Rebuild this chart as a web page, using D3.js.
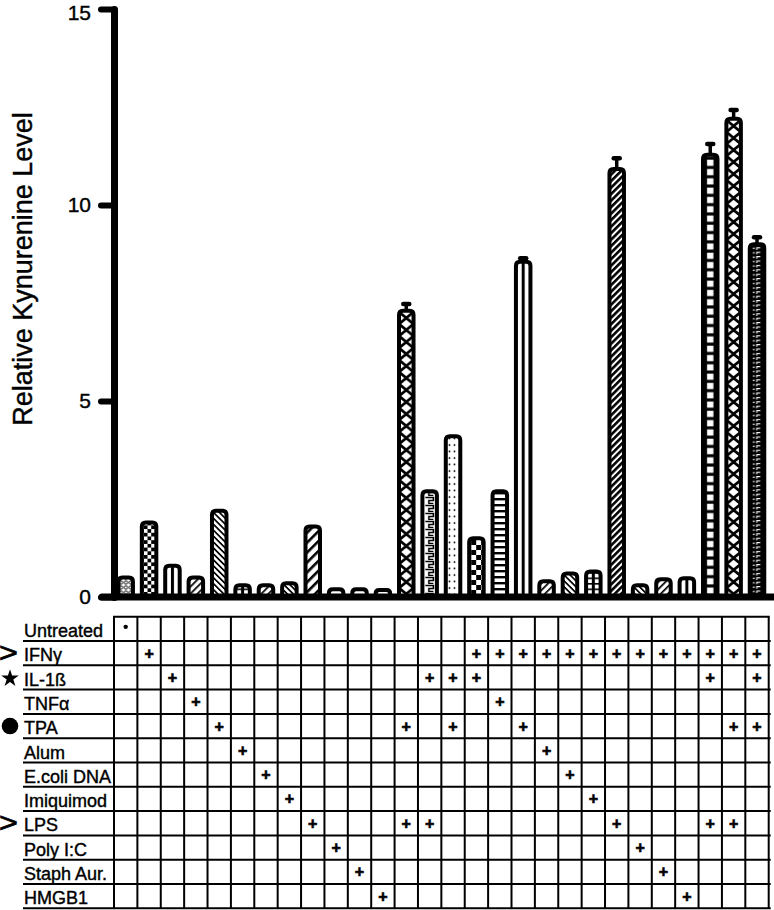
<!DOCTYPE html>
<html>
<head>
<meta charset="utf-8">
<title>Relative Kynurenine Level</title>
<script src="https://cdnjs.cloudflare.com/ajax/libs/d3/7.8.5/d3.min.js"></script>
<style>
body { margin: 0; background: #fff; }
svg { display: block; font-family: "Liberation Sans", Arial, Helvetica, sans-serif; }
.heavy { stroke: #000; stroke-width: 0.4; }
</style>
</head>
<body>
<svg width="774" height="910"></svg>
<script>

// treatments, one table row each
var treatments = ["Untreated", "IFNγ", "IL-1ß", "TNFα", "TPA", "Alum", "E.coli DNA",
                  "Imiquimod", "LPS", "Poly I:C", "Staph Aur.", "HMGB1"];
var rowMarks = ["", ">", "★", "", "●", "", "", "", ">", "", "", ""];

// which columns (1-based) got each treatment
var applied = [
  [1],
  [2, 16, 17, 18, 19, 20, 21, 22, 23, 24, 25, 26, 27, 28],
  [3, 14, 15, 16, 26, 28],
  [4, 17],
  [5, 13, 15, 18, 27, 28],
  [6, 19],
  [7, 20],
  [8, 21],
  [9, 13, 14, 22, 26, 27],
  [10, 23],
  [11, 24],
  [12, 25]
];

// bar heights and error
var kynurenine = [0.5, 1.9, 0.8, 0.5, 2.2, 0.3, 0.3, 0.35, 1.8, 0.2, 0.2, 0.18,
                  7.3, 2.7, 4.1, 1.5, 2.7, 8.55, 0.4, 0.6, 0.65, 10.92, 0.3, 0.45,
                  0.48, 11.28, 12.2, 9.0];
var sem = [0, 0, 0, 0, 0, 0, 0, 0, 0, 0, 0, 0,
           0.2, 0, 0, 0, 0, 0.12, 0, 0, 0, 0.3, 0, 0,
           0, 0.3, 0.25, 0.2];
var yTicks = [0, 5, 10, 15];

var svg = d3.select("svg");

var x = d3.scaleBand().domain(d3.range(kynurenine.length)).range([114, 768.7]);
var y = d3.scaleLinear().domain([0, 15]).range([597, 9]);
var rows = d3.scaleBand().domain(d3.range(treatments.length)).range([616.7, 908.3]);

var barW = 14.5;

// fill patterns, one per bar
var fills = ["circles", "checker", "vcenter", "fdiag", "bdiag", "grid", "fdiag", "bdiag",
             "bigdiag", "hstripe", "hstripe", "hstripe", "diamond", "meander", "dots",
             "bigchecker", "hstripe", "vcenter", "fdiag", "bdiag", "grid", "slash",
             "bdiag", "fdiag", "vcenter", "ladder", "diamond", "dense"];

var defs = svg.append("defs");

function stripes(p, period, w, angle, bg, fg) {
  p.attr("width", period).attr("height", period)
   .attr("patternTransform", "rotate(" + angle + ")");
  p.append("rect").attr("width", period).attr("height", period).attr("fill", bg);
  p.append("rect").attr("width", w).attr("height", period).attr("fill", fg);
}

function makePattern(i, type, x0) {
  var W = barW;
  var p = defs.append("pattern").attr("id", "p" + i)
      .attr("patternUnits", "userSpaceOnUse").attr("x", x0).attr("y", 0);
  if (type == "circles") {
    p.attr("width", 5).attr("height", 5);
    p.append("rect").attr("width", 5).attr("height", 5).attr("fill", "#fff");
    p.append("circle").attr("cx", 2.5).attr("cy", 2.5).attr("r", 1.7)
      .attr("fill", "none").attr("stroke", "#000").attr("stroke-width", 1);
  } else if (type == "checker" || type == "bigchecker") {
    var s = type == "checker" ? 3.7 : 5;
    p.attr("width", 2 * s).attr("height", 2 * s).attr("x", x0 + 2);
    p.append("rect").attr("width", 2 * s).attr("height", 2 * s).attr("fill", "#fff");
    p.append("rect").attr("width", s).attr("height", s).attr("fill", "#000");
    p.append("rect").attr("x", s).attr("y", s).attr("width", s).attr("height", s).attr("fill", "#000");
  } else if (type == "vcenter" || type == "grid") {
    p.attr("width", W).attr("height", 5.5);
    p.append("rect").attr("width", W).attr("height", 5.5).attr("fill", "#fff");
    p.append("rect").attr("x", W / 2 - 1.5).attr("width", 3).attr("height", 5.5).attr("fill", "#000");
    if (type == "grid")
      p.append("rect").attr("width", W).attr("height", 1.6).attr("fill", "#000");
  } else if (type == "fdiag") {
    stripes(p, 5, 1.7, 45, "#fff", "#000");
  } else if (type == "bdiag") {
    stripes(p, 4.2, 1.7, -45, "#fff", "#000");
  } else if (type == "bigdiag") {
    stripes(p, 7, 2.6, 45, "#fff", "#000");
  } else if (type == "slash") {
    stripes(p, 4.6, 2.6, 45, "#fff", "#000");
  } else if (type == "hstripe") {
    p.attr("width", 10).attr("height", 6);
    p.append("rect").attr("width", 10).attr("height", 6).attr("fill", "#fff");
    p.append("rect").attr("width", 10).attr("height", 2.4).attr("fill", "#000");
  } else if (type == "diamond") {
    p.attr("width", W).attr("height", 12);
    p.append("rect").attr("width", W).attr("height", 12).attr("fill", "#fff");
    p.append("path").attr("d", "M0,0L" + W + ",12M" + W + ",0L0,12")
      .attr("stroke", "#000").attr("stroke-width", 2.8);
  } else if (type == "meander") {
    p.attr("width", W).attr("height", 8);
    p.append("rect").attr("width", W).attr("height", 8).attr("fill", "#fff");
    p.append("path").attr("d", "M3,1.5H11V4.5H6.5V7.5H11")
      .attr("fill", "none").attr("stroke", "#000").attr("stroke-width", 1.6);
  } else if (type == "dots") {
    p.attr("width", 5).attr("height", 6.5).attr("x", x0 + 1.2);
    p.append("rect").attr("width", 5).attr("height", 6.5).attr("fill", "#fff");
    p.append("circle").attr("cx", 2.5).attr("cy", 3).attr("r", 0.95).attr("fill", "#000");
  } else if (type == "ladder") {
    p.attr("width", W).attr("height", 9.3);
    p.append("rect").attr("width", W).attr("height", 9.3).attr("fill", "#000");
    p.append("rect").attr("x", W / 2 - 3.2).attr("y", 1.6).attr("width", 6.4).attr("height", 6.2).attr("fill", "#fff");
  } else if (type == "dense") {
    p.attr("width", W).attr("height", 4.4);
    p.append("rect").attr("width", W).attr("height", 4.4).attr("fill", "#000");
    p.append("rect").attr("x", 3.2).attr("y", 1.4).attr("width", 1.6).attr("height", 1.3).attr("fill", "#fff");
    p.append("path").attr("d", "M7,3.6V1.4H10.5").attr("fill", "none")
      .attr("stroke", "#fff").attr("stroke-width", 1.1);
  }
}

function barPath(cx, top, base) {
  var x0 = cx - barW / 2, x1 = cx + barW / 2;
  var r = Math.min(4, (base - top) / 2);
  return "M" + x0 + "," + base + "V" + (top + r) +
         "Q" + x0 + "," + top + " " + (x0 + r) + "," + top +
         "H" + (x1 - r) + "Q" + x1 + "," + top + " " + x1 + "," + (top + r) +
         "V" + base + "Z";
}

kynurenine.forEach(function(d, i) {
  makePattern(i, fills[i], x(i) + x.bandwidth() / 2 - barW / 2);
});

// bars
svg.append("g").selectAll("path")
  .data(kynurenine)
  .join("path")
    .attr("d", function(d, i) { return barPath(x(i) + x.bandwidth() / 2, y(d), y(0)); })
    .attr("fill", function(d, i) { return "url(#p" + i + ")"; })
    .attr("stroke", "#000")
    .attr("stroke-width", 4);

// error bars
var errs = svg.append("g").selectAll("g")
  .data(kynurenine.map(function(d, i) { return {i: i, v: d, e: sem[i]}; })
    .filter(function(d) { return d.e > 0; }))
  .join("g")
    .attr("transform", function(d) { return "translate(" + (x(d.i) + x.bandwidth() / 2) + ",0)"; });
errs.append("line")
  .attr("y1", function(d) { return y(d.v); })
  .attr("y2", function(d) { return y(d.v + d.e); })
  .attr("stroke", "#000").attr("stroke-width", 3.5);
errs.append("line")
  .attr("x1", -3).attr("x2", 3)
  .attr("y1", function(d) { return y(d.v + d.e) + 1; })
  .attr("y2", function(d) { return y(d.v + d.e) + 1; })
  .attr("stroke", "#000").attr("stroke-width", 4.5).attr("stroke-linecap", "round");

// axes
var yAxis = svg.append("g")
    .attr("transform", "translate(114,0)")
    .call(d3.axisLeft(y).tickValues(yTicks).tickSize(13).tickSizeOuter(0).tickPadding(10));
yAxis.select(".domain").attr("stroke-width", 7).attr("stroke-linecap", "round");
yAxis.selectAll(".tick line").attr("stroke-width", 6).attr("stroke-linecap", "round");
yAxis.selectAll(".tick text")
  .attr("class", "heavy")
  .attr("font-size", 21)
  .attr("font-family", "Liberation Sans, Arial, sans-serif")
  .attr("fill", "#000")
  .attr("dy", function(d) { return d == 15 ? "0.48em" : "0.32em"; });

svg.append("line")
  .attr("x1", 102).attr("x2", 774)
  .attr("y1", y(0)).attr("y2", y(0))
  .attr("stroke", "#000").attr("stroke-width", 7).attr("stroke-linecap", "round");

svg.append("text")
  .attr("class", "heavy")
  .attr("transform", "translate(31.5,269) rotate(-90)")
  .attr("text-anchor", "middle")
  .attr("font-size", 27)
  .text("Relative Kynurenine Level");

// treatment table
var table = svg.append("g");
var tRight = x.range()[1];

table.selectAll("line.v")
  .data(d3.range(kynurenine.length + 1))
  .join("line")
    .attr("class", "v")
    .attr("x1", function(c) { return 114 + c * x.step(); })
    .attr("x2", function(c) { return 114 + c * x.step(); })
    .attr("y1", rows.range()[0]).attr("y2", rows.range()[1])
    .attr("stroke", "#000").attr("stroke-width", 2);

table.append("line")
  .attr("x1", 113).attr("x2", tRight + 1)
  .attr("y1", rows.range()[0]).attr("y2", rows.range()[0])
  .attr("stroke", "#000").attr("stroke-width", 2);

table.selectAll("line.h")
  .data(treatments)
  .join("line")
    .attr("class", "h")
    .attr("x1", 23).attr("x2", tRight + 2)
    .attr("y1", function(d, r) { return rows(r) + rows.bandwidth(); })
    .attr("y2", function(d, r) { return rows(r) + rows.bandwidth(); })
    .attr("stroke", "#000").attr("stroke-width", 2);

table.selectAll("text.lab")
  .data(treatments)
  .join("text")
    .attr("class", "lab heavy")
    .attr("x", 24)
    .attr("y", function(d, r) { return rows(r) + rows.bandwidth() - 4; })
    .attr("font-size", 18)
    .text(function(d) { return d; });

// row markers on the far left
rowMarks.forEach(function(m, r) {
  var cy = rows(r) + rows.bandwidth() / 2;
  if (m == ">") {
    table.append("text")
      .attr("transform", "translate(-1," + (cy + 8.5) + ") scale(1.15,1)")
      .attr("stroke", "#000").attr("stroke-width", 0.8)
      .attr("font-size", 28).text(m);
  } else if (m == "★") {
    table.append("path")
      .attr("transform", "translate(10," + (cy + 1) + ")")
      .attr("d", d3.symbol(d3.symbolStar, 95)());
  } else if (m == "●") {
    table.append("circle").attr("cx", 10).attr("cy", cy).attr("r", 8.3);
  }
});

// pluses
applied.forEach(function(cols, r) {
  cols.forEach(function(c) {
    var cx = x(c - 1) + x.bandwidth() / 2;
    var cy = rows(r) + rows.bandwidth() / 2;
    if (r == 0) {
      table.append("circle").attr("cx", cx).attr("cy", cy - 2).attr("r", 2.2);
    } else {
      table.append("text")
        .attr("x", cx).attr("y", cy + 5.5)
        .attr("stroke", "#000").attr("stroke-width", 0.6)
        .attr("text-anchor", "middle").attr("font-size", 16).attr("font-weight", "bold")
        .text("+");
    }
  });
});

</script>
</body>
</html>
